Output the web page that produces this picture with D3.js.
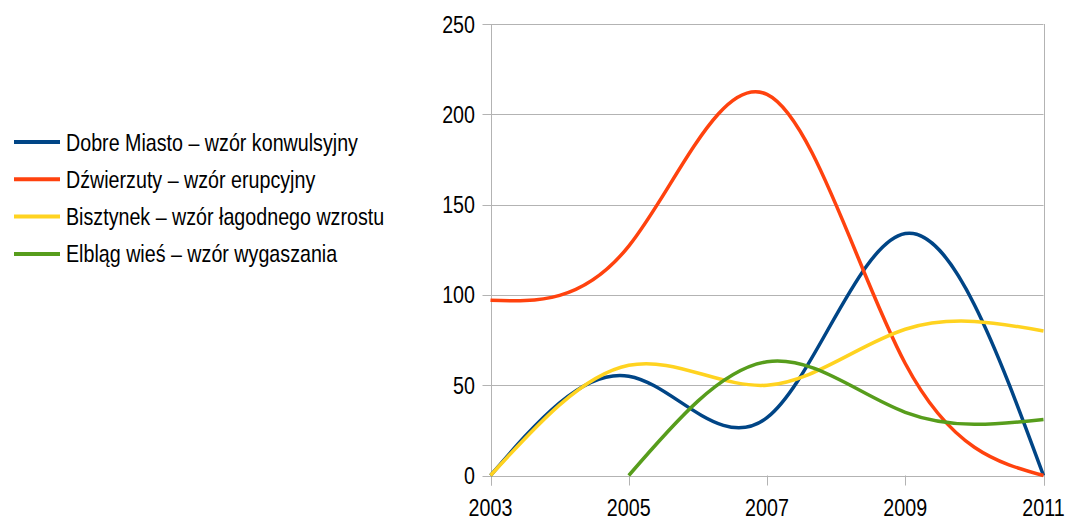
<!DOCTYPE html>
<html>
<head>
<meta charset="utf-8">
<script src="https://cdn.jsdelivr.net/npm/d3@7"></script>
<style>
  body { margin: 0; background: #fff; }
  text { font-family: "Liberation Sans", Arial, sans-serif; fill: #000; }
</style>
</head>
<body>
<div id="chart_id"></div>
<script>
// data
var years = [2003, 2005, 2007, 2009, 2011];
var dobreMiasto = [0, 55, 32, 134, 0];
var dzwierzuty = [97, 127, 211, 62, 0];
var bisztynek = [0, 61, 50, 81, 80];
var elblagWies = [null, 0, 63, 35, 31];
var seriesNames = [
  "Dobre Miasto – wzór konwulsyjny",
  "Dźwierzuty – wzór erupcyjny",
  "Bisztynek – wzór łagodnego wzrostu",
  "Elbląg wieś – wzór wygaszania"
];
var seriesColors = ["#004586", "#ff420e", "#ffd320", "#579d1c"];
var yTicks = [0, 50, 100, 150, 200, 250];

var width = 1065, height = 520;
var squeeze = 0.82; // text in the picture is narrow

var svg = d3.select("#chart_id")
  .append("svg")
  .attr("width", width)
  .attr("height", height);

var x = d3.scaleLinear().domain([2003, 2011]).range([490.5, 1043.5]);
var y = d3.scaleLinear().domain([0, 250]).range([475.5, 24]);

// gridlines + y ticks
svg.selectAll(".grid")
  .data(yTicks).enter()
  .append("line")
  .attr("x1", x(2003) - 8).attr("x2", x(2011))
  .attr("y1", function(d) { return Math.round(y(d)) + 0.5; })
  .attr("y2", function(d) { return Math.round(y(d)) + 0.5; })
  .attr("stroke", "#b3b3b3").attr("stroke-width", 1);

// left axis and right border
[2003, 2011].forEach(function(v) {
  svg.append("line")
    .attr("x1", Math.round(x(v)) + 0.5).attr("x2", Math.round(x(v)) + 0.5)
    .attr("y1", y(250)).attr("y2", y(0) + 10)
    .attr("stroke", "#b3b3b3").attr("stroke-width", 1);
});

// x ticks
svg.selectAll(".xtick")
  .data(years).enter()
  .append("line")
  .attr("x1", function(d) { return Math.round(x(d)) + 0.5; })
  .attr("x2", function(d) { return Math.round(x(d)) + 0.5; })
  .attr("y1", y(0)).attr("y2", y(0) + 10)
  .attr("stroke", "#b3b3b3").attr("stroke-width", 1);

// y labels
svg.selectAll(".ylab")
  .data(yTicks).enter()
  .append("text")
  .attr("transform", function(d) { return "translate(475," + (y(d) + 8.5) + ") scale(" + squeeze + ",1)"; })
  .attr("text-anchor", "end")
  .style("font-size", "24px")
  .text(function(d) { return d; });

// x labels
svg.selectAll(".xlab")
  .data(years).enter()
  .append("text")
  .attr("transform", function(d) { return "translate(" + x(d) + ",516) scale(" + squeeze + ",1)"; })
  .attr("text-anchor", "middle")
  .style("font-size", "24px")
  .text(function(d) { return d; });

// lines (cubic spline like the original)
var allSeries = [dobreMiasto, dzwierzuty, bisztynek, elblagWies];
var line = d3.line()
  .defined(function(d) { return d != null; })
  .x(function(d, i) { return x(years[i]); })
  .y(function(d) { return y(d); })
  .curve(d3.curveNatural);

allSeries.forEach(function(s, i) {
  svg.append("path")
    .attr("d", line(s))
    .attr("fill", "none")
    .attr("stroke", seriesColors[i])
    .attr("stroke-width", 3.5)
    .attr("stroke-linejoin", "round");
});

// legend
var legend = svg.selectAll(".legend")
  .data(seriesNames).enter()
  .append("g")
  .attr("transform", function(d, i) { return "translate(14," + (142 + i * 37.3) + ")"; });

legend.append("line")
  .attr("x1", 0).attr("x2", 46)
  .attr("y1", 0).attr("y2", 0)
  .attr("stroke", function(d, i) { return seriesColors[i]; })
  .attr("stroke-width", 4);

legend.append("text")
  .attr("transform", "translate(52,8.5) scale(" + squeeze + ",1)")
  .style("font-size", "24px")
  .text(function(d) { return d; });
</script>
</body>
</html>
